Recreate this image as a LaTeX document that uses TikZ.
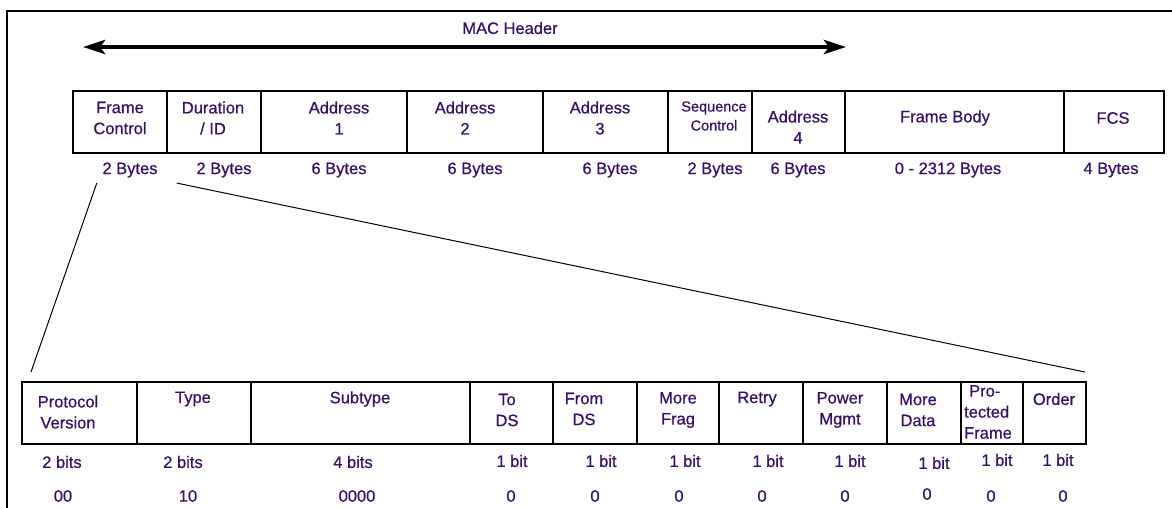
\documentclass[tikz,border=0pt]{standalone}
\usepackage{fontspec}
\setmainfont{Liberation Sans}[FakeBold=0.7]
\usepackage{tikz}
\usetikzlibrary{positioning, arrows.meta}
\definecolor{macpurple}{RGB}{58,16,100}

\begin{document}
\begin{tikzpicture}[x=1pt, y=-1pt,
		field/.style={draw, line width=1.5pt, minimum height=62pt, inner sep=0pt, outer sep=0pt},
		lbl/.style={text=macpurple, font=\fontsize{16.5}{21}\selectfont, align=center, inner sep=0pt}]
		\useasboundingbox (0,0) rectangle (1172,507);
		\draw[line width=1.7pt] (7,510) -- (7,11) -- (1175,11);
		
		\node[lbl] (mach) at (510,28) {MAC Header};
		\coordinate (hl) at (83,47);
		\coordinate (hr) at (846,47);
		\draw [{Stealth[length=22pt, width=14pt, inset=5pt]}-{Stealth[length=22pt, width=14pt, inset=5pt]}, line width=4.5pt](hl) -- (hr);
		
		\node[field, minimum width=94pt, anchor=north west] (fc) at (73,91) {};
		\node[field, minimum width=94pt, right=0pt of fc] (di) {};
		\node[field, minimum width=146pt, right=0pt of di] (a1) {};
		\node[field, minimum width=136pt, right=0pt of a1] (a2) {};
		\node[field, minimum width=125pt, right=0pt of a2] (a3) {};
		\node[field, minimum width=84pt, right=0pt of a3] (sc) {};
		\node[field, minimum width=93pt, right=0pt of sc] (a4) {};
		\node[field, minimum width=219pt, right=0pt of a4] (fb) {};
		\node[field, minimum width=100pt, right=0pt of fb] (fcs) {};
		
		\node[lbl] (fct) at (120,118) {Frame\\Control};
		\node[lbl] (dit) at (213,118) {Duration\\/ ID};
		\node[lbl] (a1t) at (339,118) {Address\\1};
		\node[lbl] (a2t) at (465,118) {Address\\2};
		\node[lbl] (a3t) at (600,118) {Address\\3};
		\node[lbl, font=\fontsize{14.5}{19}\selectfont] (sct) at (714,116) {Sequence\\Control};
		\node[lbl] (a4t) at (798,127) {Address\\4};
		\node[lbl] (fbt) at (945,118) {Frame Body};
		\node[lbl] (fcst) at (1113,118) {FCS};
		
		\node[lbl] (fcb) at (130,170) {2 Bytes};
		\node[lbl] (dib) at (224,170) {2 Bytes};
		\node[lbl] (a1b) at (339,170) {6 Bytes};
		\node[lbl] (a2b) at (475,170) {6 Bytes};
		\node[lbl] (a3b) at (610,170) {6 Bytes};
		\node[lbl] (scb) at (715,170) {2 Bytes};
		\node[lbl] (a4b) at (798,170) {6 Bytes};
		\node[lbl] (fbb) at (948,170) {0 - 2312 Bytes};
		\node[lbl] (fcsb) at (1111,170) {4 Bytes};
		
		\node[field, minimum width=115pt, anchor=north west] (pv) at (22,382) {};
		\node[field, minimum width=114pt, right=0pt of pv] (ty) {};
		\node[field, minimum width=219pt, right=0pt of ty] (st) {};
		\node[field, minimum width=83pt, right=0pt of st] (td) {};
		\node[field, minimum width=84pt, right=0pt of td] (fd) {};
		\node[field, minimum width=82pt, right=0pt of fd] (mf) {};
		\node[field, minimum width=84pt, right=0pt of mf] (rt) {};
		\node[field, minimum width=84pt, right=0pt of rt] (pm) {};
		\node[field, minimum width=74pt, right=0pt of pm] (md) {};
		\node[field, minimum width=62pt, right=0pt of md] (pf) {};
		\node[field, minimum width=63pt, right=0pt of pf] (od) {};
		
		\node[lbl] (pvt) at (68,412) {Protocol\\Version};
		\node[lbl] (tyt) at (193,399) {Type};
		\node[lbl] (stt) at (360,399) {Subtype};
		\node[lbl] (tdt) at (507,410) {To\\DS};
		\node[lbl] (fdt) at (584,409) {From\\DS};
		\node[lbl] (mft) at (678,410) {More\\Frag};
		\node[lbl] (rtt) at (757,399) {Retry};
		\node[lbl] (pmt) at (840,410) {Power\\Mgmt};
		\node[lbl] (mdt) at (918,410) {More\\Data};
		\node[lbl, align=left] (pft) at (988,412) {\hspace*{5pt}Pro-\\tected\\Frame};
		\node[lbl] (odt) at (1054,399) {Order};
		
		\node[lbl] (pvb) at (62,462) {2 bits};
		\node[lbl] (tyb) at (183,462) {2 bits};
		\node[lbl] (stb) at (353,462) {4 bits};
		\node[lbl] (tdb) at (512,461) {1 bit};
		\node[lbl] (fdb) at (601,461) {1 bit};
		\node[lbl] (mfb) at (685,461) {1 bit};
		\node[lbl] (rtb) at (768,461) {1 bit};
		\node[lbl] (pmb) at (850,461) {1 bit};
		\node[lbl] (mdb) at (934,463) {1 bit};
		\node[lbl] (pfb) at (997,460) {1 bit};
		\node[lbl] (odb) at (1058,460) {1 bit};
		
		\node[lbl] (pvv) at (63,496) {00};
		\node[lbl] (tyv) at (188,496) {10};
		\node[lbl] (stv) at (357,496) {0000};
		\node[lbl] (tdv) at (511,496) {0};
		\node[lbl] (fdv) at (595,496) {0};
		\node[lbl] (mfv) at (679,496) {0};
		\node[lbl] (rtv) at (762,496) {0};
		\node[lbl] (pmv) at (845,496) {0};
		\node[lbl] (mdv) at (927,494) {0};
		\node[lbl] (pfv) at (991,496) {0};
		\node[lbl] (odv) at (1063,496) {0};
		
		\draw[line width=1pt] ([shift={(-5.5pt,-5.4pt)}]fcb.south west) -- ([shift={(9pt,10pt)}]pv.north west);
		\draw[line width=1pt] ([shift={(-19.5pt,-5.4pt)}]dib.south west) -- ([shift={(-1pt,10pt)}]od.north east);
		
	\end{tikzpicture}
\end{document}
